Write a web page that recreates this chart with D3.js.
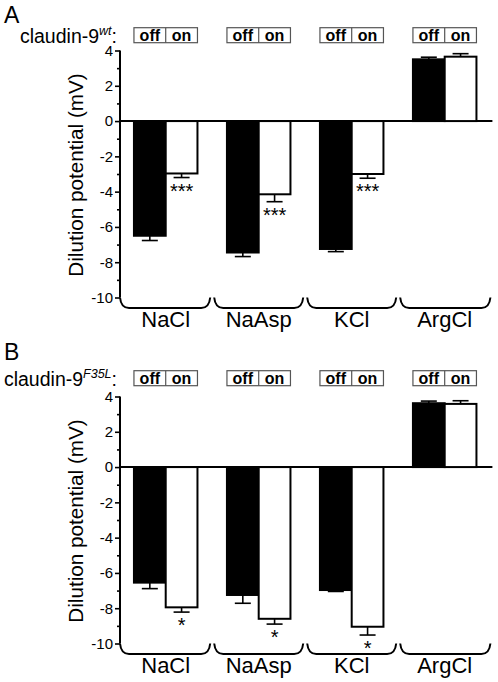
<!DOCTYPE html>
<html>
<head>
<meta charset="utf-8">
<script src="https://cdn.jsdelivr.net/npm/d3@7"></script>
<style>
  body { margin: 0; background: #fff; }
  text { font-family: "Liberation Sans", Arial, sans-serif; }
</style>
</head>
<body>
<script>
// categories / groups
const categories = ["NaCl", "NaAsp", "KCl", "ArgCl"];
const conditions = ["off", "on"];
const yTicks = [4, 2, 0, -2, -4, -6, -8, -10];
const yMinorTicks = [3, 1, -1, -3, -5, -7, -9];

// panel A: claudin-9 wt (mV, mean and SEM)
const wtOff = [-6.5, -7.45, -7.25, 3.5];
const wtOffErr = [0.27, 0.23, 0.15, 0.12];
const wtOn = [-2.97, -4.15, -3.0, 3.65];
const wtOnErr = [0.23, 0.42, 0.24, 0.17];
const wtSig = ["***", "***", "***", ""];

// panel B: claudin-9 F35L
const f35lOff = [-6.55, -7.25, -6.97, 3.62];
const f35lOffErr = [0.34, 0.47, 0.08, 0.12];
const f35lOn = [-7.95, -8.6, -9.05, 3.58];
const f35lOnErr = [0.27, 0.3, 0.47, 0.18];
const f35lSig = ["*", "*", "*", ""];

const W = 498, H = 682;
const svg = d3.select("body").append("svg").attr("width", W).attr("height", H);

const axisX = 120;
const x0 = d3.scaleBand().domain(categories).range([axisX, 490.4])
  .paddingInner(0.317).paddingOuter(0.15);
const x1 = d3.scaleBand().domain(conditions).range([0, x0.bandwidth()]);
const gap = x0.step() - x0.bandwidth();

function drawPanel(p) {
  const g = svg.append("g");
  const y = d3.scaleLinear().domain([-10, 4]).range([p.top + 247, p.top]);

  const rows = [];
  categories.forEach((c, i) => {
    conditions.forEach((k, j) => {
      rows.push({ cat: c, cond: k, v: p.values[j][i], e: p.errors[j][i], sig: j === 1 ? p.sig[i] : "" });
    });
  });

  // zero line
  g.append("line")
    .attr("x1", axisX).attr("x2", x0.range()[1] + 2)
    .attr("y1", y(0)).attr("y2", y(0))
    .attr("stroke", "#000").attr("stroke-width", 2);

  // error bars (outward only)
  const eb = g.selectAll(".eb").data(rows).join("g").attr("class", "eb");
  const cx = (d) => x0(d.cat) + x1(d.cond) + x1.bandwidth() / 2;
  const tip = (d) => (d.v < 0 ? d.v - d.e : d.v + d.e);
  eb.append("line")
    .attr("x1", cx).attr("x2", cx)
    .attr("y1", (d) => y(d.v)).attr("y2", (d) => y(tip(d)))
    .attr("stroke", "#000").attr("stroke-width", 1.6);
  eb.append("line")
    .attr("x1", (d) => cx(d) - 8).attr("x2", (d) => cx(d) + 8)
    .attr("y1", (d) => y(tip(d))).attr("y2", (d) => y(tip(d)))
    .attr("stroke", "#000").attr("stroke-width", 1.6);

  // bars
  g.selectAll(".bar").data(rows).join("rect")
    .attr("class", "bar")
    .attr("x", (d) => x0(d.cat) + x1(d.cond))
    .attr("width", x1.bandwidth())
    .attr("y", (d) => y(Math.max(d.v, 0)))
    .attr("height", (d) => Math.abs(y(d.v) - y(0)))
    .attr("fill", (d) => (d.cond === "off" ? "#000" : "#fff"))
    .attr("stroke", "#000").attr("stroke-width", 2);

  // significance stars
  g.selectAll(".sig").data(rows.filter((d) => d.sig)).join("text")
    .attr("class", "sig")
    .attr("x", cx)
    .attr("y", (d) => y(tip(d)) + 20)
    .attr("text-anchor", "middle")
    .attr("font-size", 20)
    .text((d) => d.sig);

  // y axis: major + minor ticks
  const ax = g.append("g").attr("transform", `translate(${axisX},0)`)
    .call(d3.axisLeft(y).tickValues(yTicks).tickSize(5).tickPadding(2)
      .tickFormat((d) => String(d)));
  ax.select(".domain").remove();
  ax.selectAll(".tick line").attr("stroke-width", 1.6);
  ax.selectAll(".tick text")
    .attr("font-family", '"Liberation Sans", Arial, sans-serif')
    .attr("font-size", 15).attr("fill", "#000");
  const axm = g.append("g").attr("transform", `translate(${axisX},0)`)
    .call(d3.axisLeft(y).tickValues(yMinorTicks).tickSize(3).tickFormat(""));
  axm.select(".domain").remove();
  axm.selectAll(".tick line").attr("stroke-width", 1.6);
  g.append("line")
    .attr("x1", axisX).attr("x2", axisX)
    .attr("y1", y(4)).attr("y2", y(-10))
    .attr("stroke", "#000").attr("stroke-width", 2);

  // brackets under each group
  const yt = y(-10), yb = y(-10) + 10.5;
  categories.forEach((c, i) => {
    const xa = i === 0 ? axisX : x0(c) - gap / 2 + 2;
    const xb = i === categories.length - 1 ? x0.range()[1] : x0(c) + x0.bandwidth() + gap / 2 - 2;
    g.append("path")
      .attr("d", `M${xa},${yt} Q${xa + 1},${yb} ${xa + 9},${yb} L${xb - 9},${yb} Q${xb - 1},${yb} ${xb},${yt}`)
      .attr("fill", "none").attr("stroke", "#000").attr("stroke-width", 2);
  });

  // category labels
  g.selectAll(".cat").data(categories).join("text")
    .attr("class", "cat")
    .attr("x", (d) => x0(d) + x0.bandwidth() / 2)
    .attr("y", y(-10) + 29.2)
    .attr("text-anchor", "middle")
    .attr("font-size", 22)
    .text((d) => d);

  // off | on boxes
  const boxTop = p.boxBottom - 15;
  categories.forEach((c) => {
    const bx = g.append("g");
    bx.append("rect")
      .attr("x", x0(c)).attr("y", boxTop)
      .attr("width", x0.bandwidth()).attr("height", 15)
      .attr("fill", "#fff").attr("stroke", "#555").attr("stroke-width", 1.2);
    bx.append("line")
      .attr("x1", x0(c) + x1("on")).attr("x2", x0(c) + x1("on"))
      .attr("y1", boxTop).attr("y2", boxTop + 15)
      .attr("stroke", "#555").attr("stroke-width", 1.2);
    conditions.forEach((k) => {
      bx.append("text")
        .attr("x", x0(c) + x1(k) + x1.bandwidth() / 2)
        .attr("y", boxTop + 13)
        .attr("text-anchor", "middle")
        .attr("font-size", 16).attr("font-weight", "bold")
        .text(k);
    });
  });

  // panel letter
  g.append("text").attr("x", 4).attr("y", p.letterY)
    .attr("font-size", 23).text(p.letter);

  // claudin-9 label with superscript
  const lab = g.append("text").attr("x", 117).attr("y", p.boxBottom)
    .attr("text-anchor", "end").attr("font-size", 19.5);
  lab.append("tspan").text("claudin-9");
  lab.append("tspan").attr("dy", -8).attr("font-size", 12.5)
    .attr("font-style", "italic").text(p.sup);
  lab.append("tspan").attr("dy", 8).text(":");

  // y label
  g.append("text")
    .attr("transform", `translate(83,${p.top + 124.5}) rotate(-90)`)
    .attr("text-anchor", "middle")
    .attr("font-size", 20.7)
    .text("Dilution potential (mV)");
}

drawPanel({
  top: 50.5, letter: "A", letterY: 22.7, boxBottom: 42.7, sup: "wt",
  values: [wtOff, wtOn], errors: [wtOffErr, wtOnErr], sig: wtSig
});
drawPanel({
  top: 396.5, letter: "B", letterY: 360, boxBottom: 385.7, sup: "F35L",
  values: [f35lOff, f35lOn], errors: [f35lOffErr, f35lOnErr], sig: f35lSig
});
</script>
</body>
</html>
